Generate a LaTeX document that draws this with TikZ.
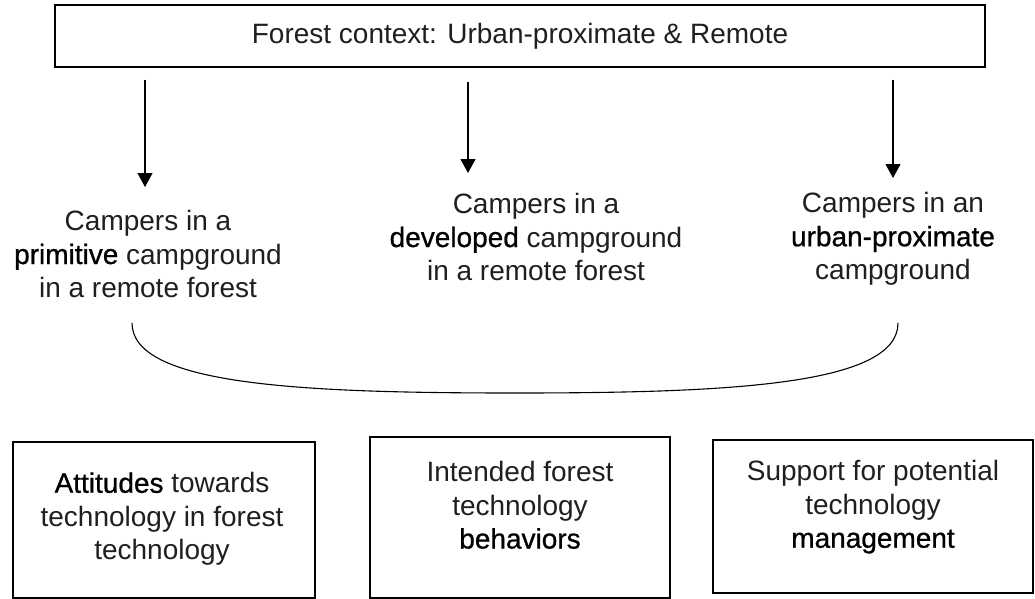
\documentclass[tikz,border=0pt]{standalone}
\usepackage{fontspec}
\setmainfont{Liberation Sans}
\newfontfamily\emf{Liberation Sans}[FakeBold=0.8]
\usetikzlibrary{arrows.meta}
\newcommand{\hl}[1]{{\emf\color{black}#1}}
\begin{document}
\begin{tikzpicture}[x=1pt,y=-1pt,
  txt/.style={align=center,inner sep=0pt,text=black!88,font=\fontsize{28}{33.5}\selectfont},
  topbox/.style={draw,line width=2.6pt,minimum width=930pt,minimum height=62pt,inner sep=0pt},
  outbox/.style={draw,line width=2.4pt,inner sep=0pt},
  arr/.style={line width=1.1pt,-{Triangle[width=15pt,length=14pt]}},
  crv/.style={line width=1.1pt}]
\useasboundingbox (0,0) rectangle (1035,599);
% top box
\node[topbox,txt] (top) at (520,36) {Forest context: Urban-proximate \& Remote};
% campground groups
\node[txt] (g1) at (148,254) {Campers in a\\\hl{primitive} campground\\in a remote forest};
\node[txt] (g2) at (536,237) {Campers in a\\\hl{developed} campground\\in a remote forest};
\node[txt] (g3) at (893,239) {Campers in an\\\hl{urban-proximate}\\campground};
% arrows
\coordinate (a1s) at (145,80);  \coordinate (a1e) at (145,187);
\coordinate (a2s) at (468,82);  \coordinate (a2e) at (468,173);
\coordinate (a3s) at (893,80);  \coordinate (a3e) at (893,178);
\draw[arr] (a1s) -- (a1e);
\draw[arr] (a2s) -- (a2e);
\draw[arr] (a3s) -- (a3e);
% bracket curve
\coordinate (c1) at (132,323);
\coordinate (cm) at (515,393);
\coordinate (c2) at (898,323);
\draw[crv] (c1) .. controls (132,385) and (300,393) .. (cm)
                .. controls (730,393) and (898,385) .. (c2);
% outcome boxes
\node[outbox,minimum width=302pt,minimum height=156pt] (b1) at (164,520) {};
\node[outbox,minimum width=300pt,minimum height=161pt] (b2) at (520,517.5) {};
\node[outbox,minimum width=320pt,minimum height=153pt] (b3) at (873,516.5) {};
\node[txt] (t1) at (162,519) {\hl{Attitudes} towards\\technology in forest\\technology};
\node[txt] (t2) at (520,505) {Intended forest\\technology\\\hl{behaviors}};
\node[txt] (t3) at (873,507) {Support for potential\\technology\\\hl{management}};
\end{tikzpicture}
\end{document}
